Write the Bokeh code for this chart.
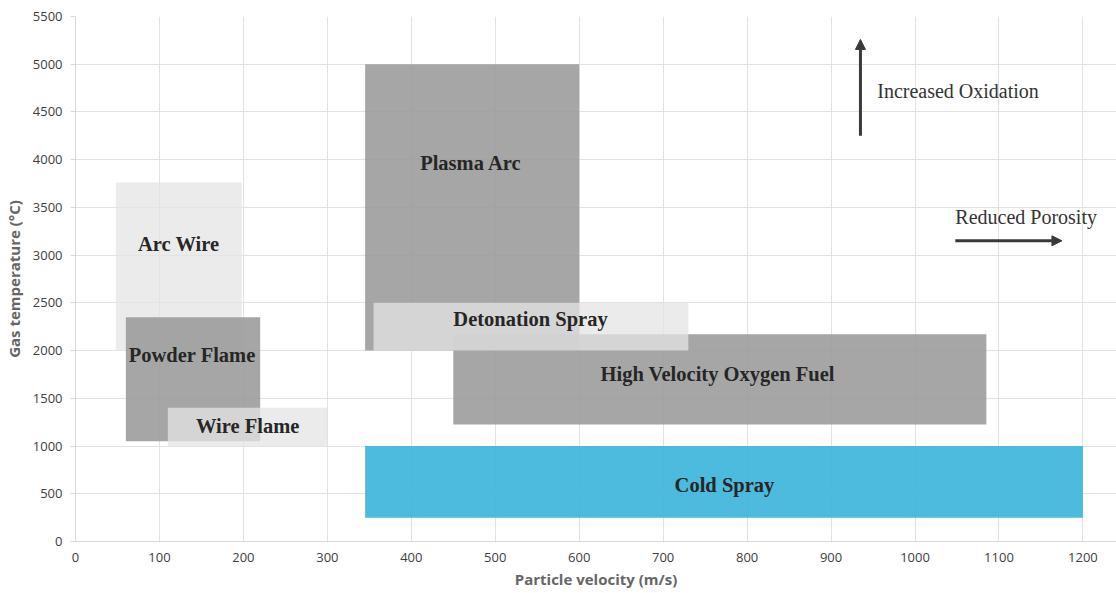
from bokeh.plotting import figure
from bokeh.models import ColumnDataSource, Arrow, NormalHead, Label, FixedTicker
from bokeh.core.properties import value
from bokeh.embed import file_html
from bokeh.resources import INLINE

# Data (m/s, °C)
processes = ["Arc Wire", "Powder Flame", "Wire Flame", "Plasma Arc", "High Velocity Oxygen Fuel", "Detonation Spray", "Cold Spray"]
vel_min = [48, 60, 110, 345, 450, 355, 345]
vel_max = [198, 220, 300, 600, 1085, 730, 1200]
temp_min = [2000, 1050, 1000, 2000, 1225, 2000, 250]
temp_max = [3760, 2350, 1400, 5000, 2170, 2500, 1000]
shade = ["light", "dark", "light", "dark", "dark", "light", "cyan"]
label_x = [123, 139, 205, 471, 765, 542, 773]
label_y = [3120, 1950, 1215, 3970, 1760, 2330, 590]

x_ticks = [0, 100, 200, 300, 400, 500, 600, 700, 800, 900, 1000, 1100, 1200]
y_ticks = [0, 500, 1000, 1500, 2000, 2500, 3000, 3500, 4000, 4500, 5000, 5500]

fill_map = {"light": ("#e4e4e4", 0.75), "dark": ("#9c9c9c", 0.9), "cyan": ("#3db5da", 0.92)}

p = figure(width=1116, height=593, x_range=(0, 1240), y_range=(0, 5500),
           output_backend="svg", toolbar_location=None,
           min_border_left=70, min_border_right=0, min_border_top=16, min_border_bottom=52)
p.outline_line_color = None
p.background_fill_color = "white"

p.xaxis.ticker = FixedTicker(ticks=x_ticks)
p.yaxis.ticker = FixedTicker(ticks=y_ticks)
p.xgrid.ticker = FixedTicker(ticks=x_ticks)
p.ygrid.ticker = FixedTicker(ticks=y_ticks)
p.grid.grid_line_color = "#e2e2e2"
p.grid.grid_line_width = 1

for ax in (p.xaxis[0], p.yaxis[0]):
    ax.axis_line_color = "#d9d9d9"
    ax.major_tick_line_color = "#d9d9d9"
    ax.minor_tick_line_color = None
    ax.major_label_text_font = "Open Sans"
    ax.major_label_text_font_size = "13px"
    ax.major_label_text_color = "#404040"
    ax.axis_label_text_font = "Open Sans"
    ax.axis_label_text_font_size = "15px"
    ax.axis_label_text_font_style = "bold"
    ax.axis_label_text_color = "#666666"

p.xaxis.major_tick_out = 0
p.xaxis.major_tick_in = 0
p.yaxis.major_tick_out = 5
p.yaxis.major_tick_in = 0
p.xaxis.major_label_standoff = 11
p.yaxis.major_label_standoff = 8
p.xaxis.axis_label = "Particle velocity (m/s)"
p.yaxis.axis_label = "Gas temperature (°C)"
p.xaxis.axis_label_standoff = 4
p.yaxis.axis_label_standoff = 6

for i in range(len(processes)):
    c, a = fill_map[shade[i]]
    p.quad(left=[vel_min[i]], right=[vel_max[i]], bottom=[temp_min[i]], top=[temp_max[i]],
           fill_color=c, fill_alpha=a, line_color=None)

lab_src = ColumnDataSource(dict(x=label_x, y=label_y, t=processes))
p.text(x="x", y="y", text="t", source=lab_src, text_font=value("Liberation Serif"),
       text_font_style="bold", text_font_size="20.5px", text_color="#262626",
       text_align="center", text_baseline="middle")

# Annotations
arrow_color = "#3a3a3a"
p.add_layout(Arrow(end=NormalHead(size=10, fill_color=arrow_color, line_color=arrow_color),
                   x_start=935, y_start=4250, x_end=935, y_end=5260,
                   line_color=arrow_color, line_width=3))
p.add_layout(Arrow(end=NormalHead(size=10, fill_color=arrow_color, line_color=arrow_color),
                   x_start=1048, y_start=3150, x_end=1175, y_end=3150,
                   line_color=arrow_color, line_width=3))
p.add_layout(Label(x=955, y=4715, text="Increased Oxidation", text_font="Liberation Serif",
                   text_font_size="20px", text_color="#333333", text_baseline="middle"))
p.add_layout(Label(x=1048, y=3395, text="Reduced Porosity", text_font="Liberation Serif",
                   text_font_size="20px", text_color="#333333", text_baseline="middle"))

open("out.html", "w").write(file_html(p, INLINE))
